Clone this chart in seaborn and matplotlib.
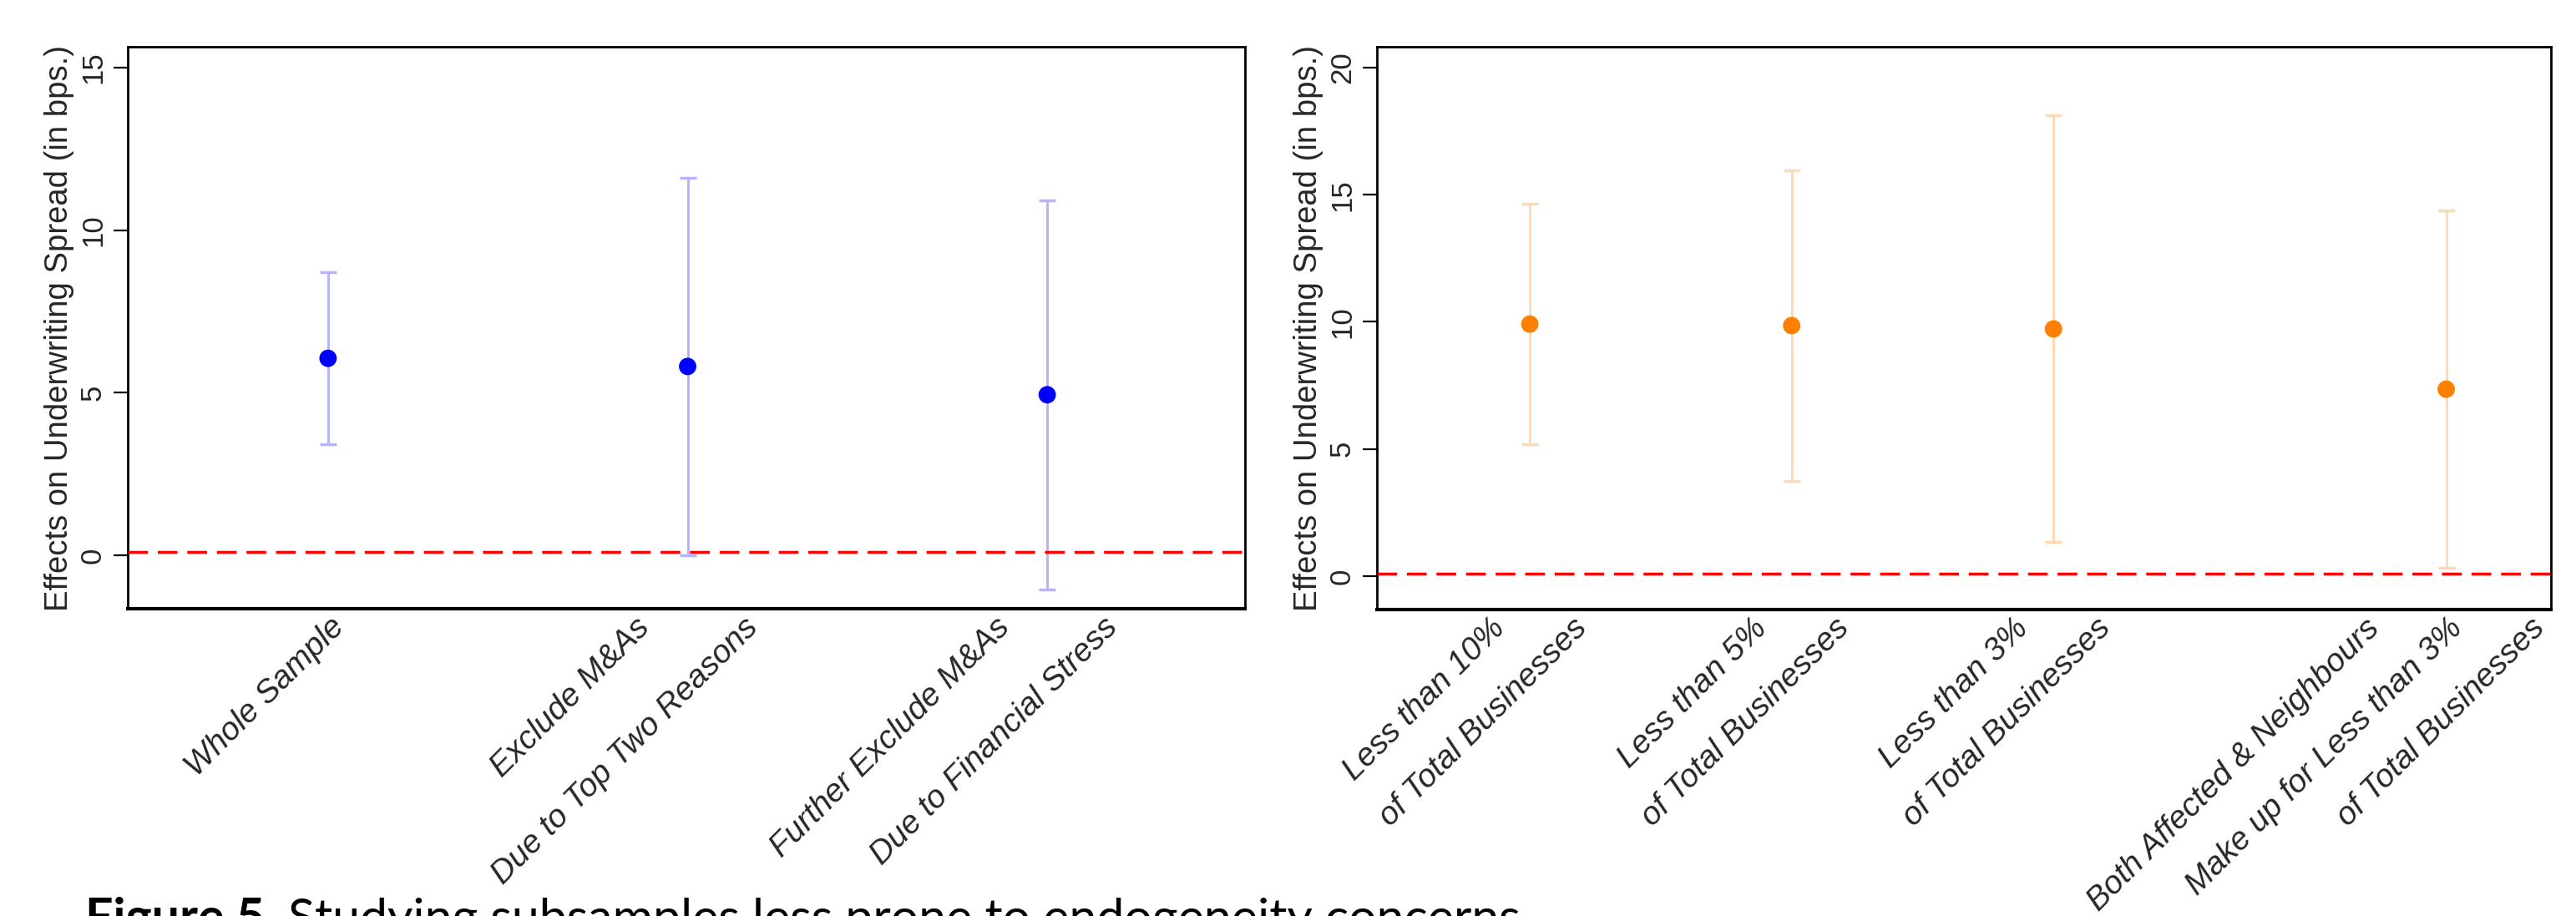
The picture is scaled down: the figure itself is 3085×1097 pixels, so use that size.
import numpy as np
import pandas as pd
import matplotlib
matplotlib.use('Agg')
import matplotlib.pyplot as plt
import seaborn as sns

# left panel: alternative subsamples
left_labels = ['Whole Sample',
               'Exclude M&As\nDue to Top Two Reasons',
               'Further Exclude M&As\nDue to Financial Stress']
left_pos = [1, 2, 3]
left_est = [6.06, 5.81, 4.94]
left_lo = [3.43, 0.01, -1.05]
left_hi = [8.70, 11.60, 10.92]
left_yticks = [0, 5, 10, 15]

# right panel: share of total businesses
right_labels = ['Less than 10%\nof Total Businesses',
                'Less than 5%\nof Total Businesses',
                'Less than 3%\nof Total Businesses',
                'Both Affected & Neighbours\nMake up for Less than 3%\nof Total Businesses']
right_pos = [1, 2, 3, 4.5]
right_est = [9.91, 9.85, 9.72, 7.35]
right_lo = [5.17, 3.73, 1.33, 0.33]
right_hi = [14.66, 15.97, 18.13, 14.38]
right_yticks = [0, 5, 10, 15, 20]

ref_line = 0.1
ylab = 'Effects on Underwriting Spread (in bps.)'

sns.set_theme(style='white')
plt.rcParams['font.family'] = ['Liberation Sans', 'DejaVu Sans']

W, H = 3085, 1097
fig = plt.figure(figsize=(W / 100, H / 100), dpi=100)


def px_axes(l, t, r, b):
    return fig.add_axes([l / W, 1 - b / H, (r - l) / W, (b - t) / H])


def panel(ax, pos, est, lo, hi, labels, yticks, ylim, xlim, dot_col, bar_col, line_dx):
    df = pd.DataFrame({'pos': pos, 'est': est, 'lo': lo, 'hi': hi})
    ax.errorbar(df['pos'], df['est'],
                yerr=[df['est'] - df['lo'], df['hi'] - df['est']],
                fmt='none', ecolor=bar_col, elinewidth=2.1,
                capsize=7.2, capthick=2.5, zorder=2)
    sns.scatterplot(data=df, x='pos', y='est', ax=ax, color=dot_col,
                    s=15 ** 2, edgecolor='none', linewidth=0, zorder=3)
    ax.axhline(ref_line, color='red', lw=2.5, ls=(0, (6.8, 3.4)), zorder=4)
    ax.set_xlim(*xlim)
    ax.set_ylim(*ylim)
    ax.set_yticks(yticks)
    ax.set_yticklabels([str(v) for v in yticks], rotation=90, va='center',
                       fontsize=25)
    ax.tick_params(axis='y', length=12, width=1.6, pad=6, color='black',
                   left=True)
    ax.set_xticks([])
    ax.set_xlabel('')
    ax.set_ylabel(ylab, fontsize=27.5, labelpad=4)
    for sp in ax.spines.values():
        sp.set_visible(True)
        sp.set_color('black')
        sp.set_linewidth(2.0)
    ax.spines['bottom'].set_linewidth(3.0)

    # multi-line rotated tick labels, each line anchored on the same height
    for x, lab in zip(pos, labels):
        lines = lab.split('\n')
        n = len(lines)
        for k, line in enumerate(lines):
            off_px = (k - (n - 1) / 2) * line_dx + 14
            ax.annotate(line, xy=(x, 0), xycoords=ax.get_xaxis_transform(),
                        xytext=(off_px * 0.72, -17 * 0.72),
                        textcoords='offset points', rotation=45,
                        rotation_mode='anchor', ha='right', va='center',
                        fontsize=28, style='italic', annotation_clip=False)


ax1 = px_axes(153, 56, 1491, 729)
panel(ax1, left_pos, left_est, left_lo, left_hi, left_labels, left_yticks,
      (-1.64, 15.64), (0.443, 3.55), '#0000FF', '#B3B3FF', 129)

ax2 = px_axes(1649, 56, 3055, 730)
panel(ax2, right_pos, right_est, right_lo, right_hi, right_labels, right_yticks,
      (-1.32, 20.82), (0.416, 4.90), '#FF8000', '#FFD9B3', 99)

# caption (cut off by the lower edge, as in the source)
cap1 = fig.text(102 / W, 1 - 1074 / H, 'Figure 5.', fontsize=42.5,
                family=['Lato', 'DejaVu Sans'], weight='bold', va='top',
                ha='left', color='black')
fig.canvas.draw()
bb = cap1.get_window_extent(fig.canvas.get_renderer())
fig.text(bb.x1 / W + 14 / W, 1 - 1074 / H,
         'Studying subsamples less prone to endogeneity concerns',
         fontsize=42.5, family=['Lato', 'DejaVu Sans'], va='top', ha='left',
         color='black')

fig.savefig('out.png', dpi=100)
